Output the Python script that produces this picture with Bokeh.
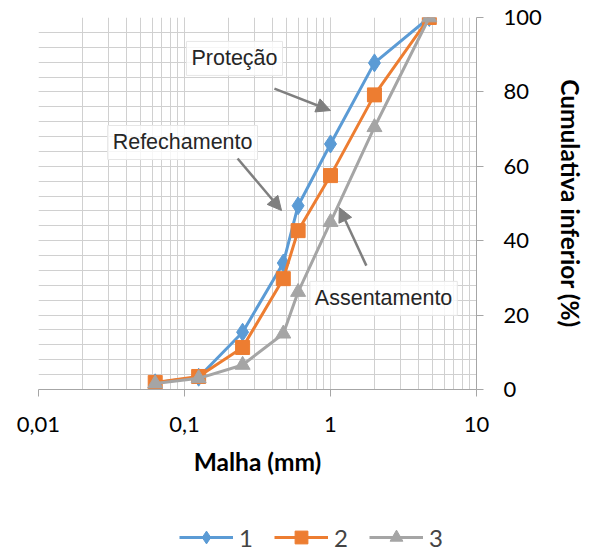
from bokeh.plotting import figure
from bokeh.layouts import column
from bokeh.models import (Range1d, LogTicker, SingleIntervalTicker, CustomJSTickFormatter,
                          Label, Arrow, NormalHead, Legend, LegendItem)
from bokeh.embed import file_html
from bokeh.resources import INLINE

# sieve openings (mm)
malha = [0.063, 0.125, 0.25, 0.475, 0.6, 1.0, 2.0, 4.75]
# cumulative passing (%)
serie1 = [1.8, 3.3, 15.4, 34.0, 49.4, 66.0, 87.8, 100]
serie2 = [1.9, 3.5, 11.3, 29.8, 42.7, 57.5, 79.2, 100]
serie3 = [1.6, 3.0, 6.6, 15.0, 26.2, 45.0, 70.5, 100]
nomes = ["1", "2", "3"]
cores = ["#5b9bd5", "#ed7d31", "#a5a5a5"]

p = figure(frame_width=438, frame_height=372, x_axis_type="log", y_axis_location="right",
           x_range=Range1d(0.01, 10), y_range=Range1d(0, 100),
           min_border_left=38, min_border_top=17, min_border_right=100, min_border_bottom=115,
           output_backend="svg", toolbar_location=None)
p.outline_line_color = None
p.background_fill_color = "white"
p.border_fill_color = "white"

grid_col = "#d0d0d0"
# x axis
p.xaxis.ticker = LogTicker(num_minor_ticks=10)
p.xaxis.formatter = CustomJSTickFormatter(
    code="return String(parseFloat(tick.toPrecision(6))).replace('.', ',');")
p.xaxis.axis_label = "Malha (mm)"
p.xgrid.grid_line_color = grid_col
p.xgrid.minor_grid_line_color = grid_col
# y axis
p.yaxis.ticker = SingleIntervalTicker(interval=20, num_minor_ticks=5)
p.yaxis.axis_label = "Cumulativa inferior (%)"
p.ygrid.grid_line_color = grid_col
p.ygrid.minor_grid_line_color = grid_col

for ax in (p.xaxis, p.yaxis):
    ax.axis_line_color = "#a6a6a6"
    ax.major_tick_line_color = "#a6a6a6"
    ax.minor_tick_line_color = None
    ax.major_tick_in = 0
    ax.major_tick_out = 7
    ax.major_label_text_font = "Lato"
    ax.major_label_text_font_size = "22px"
    ax.major_label_text_color = "#000000"
    ax.axis_label_text_font = "Lato"
    ax.axis_label_text_font_style = "bold"
    ax.axis_label_text_font_size = "24.5px"
    ax.axis_label_text_color = "#000000"
p.xaxis.major_label_standoff = 20
p.xaxis.axis_label_standoff = 12
p.yaxis.major_label_standoff = 20
p.yaxis.axis_label_standoff = 11

series = [serie1, serie2, serie3]
markers = ["diamond", "square", "triangle"]
sizes = [18, 14, 15]
for nome, ys, cor, mk, sz in zip(nomes, series, cores, markers, sizes):
    p.line(malha, ys, line_color=cor, line_width=3, line_join="round")
    p.scatter(malha, ys, marker=mk, size=sz, fill_color=cor, line_color=cor)

# annotations
txt_style = dict(text_font="Liberation Sans", text_font_size="21.5px", text_color="#262626",
                 text_align="center", text_baseline="middle",
                 background_fill_color="white", background_fill_alpha=0.8,
                 border_line_color="#e6e6e6", border_line_width=1, padding=5)
p.add_layout(Label(x=0.22, y=89, text="Proteção", **txt_style))
p.add_layout(Label(x=0.097, y=66.4, text="Refechamento", **txt_style))
p.add_layout(Label(x=2.31, y=24.5, text="Assentamento", **txt_style))

arr_col = "#7f7f7f"
for xs, ys, xe, ye in [(0.413, 80.9, 1.0, 75.0), (0.231, 62.1, 0.462, 48.1), (1.76, 33.3, 1.15, 48.9)]:
    p.add_layout(Arrow(end=NormalHead(size=14, fill_color=arr_col, line_color=arr_col),
                       x_start=xs, y_start=ys, x_end=xe, y_end=ye,
                       line_color=arr_col, line_width=2.5))

# legend strip below the chart (series drawn out of its visible range; only the legend shows)
pl = figure(width=576, height=50, x_range=Range1d(100, 200), y_range=Range1d(0, 1),
            x_axis_location=None, y_axis_location=None,
            min_border=0, output_backend="svg", toolbar_location=None)
pl.grid.visible = False
pl.outline_line_color = None
items = []
for nome, ys, cor, mk, sz in zip(nomes, series, cores, markers, sizes):
    ln = pl.line(malha, ys, line_color=cor, line_width=3)
    sc = pl.scatter(malha, ys, marker=mk, size=sz, fill_color=cor, line_color=cor)
    items.append(LegendItem(label=nome, renderers=[ln, sc]))
legend = Legend(items=items, orientation="horizontal", location=(141, 1),
                border_line_color=None, background_fill_alpha=0,
                label_text_font="Lato", label_text_font_size="24px",
                glyph_width=54, glyph_height=32, spacing=15, label_standoff=6,
                padding=0, margin=0)
pl.add_layout(legend, "center")

layout = column(p, pl, spacing=0)
open("out.html", "w").write(file_html(layout, INLINE))
